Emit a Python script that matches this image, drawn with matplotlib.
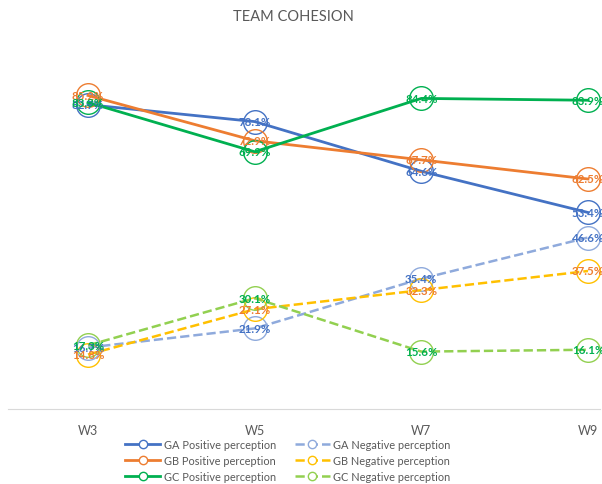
import matplotlib
matplotlib.use("Agg")
import matplotlib.pyplot as plt
from matplotlib.lines import Line2D

plt.rcParams['font.family'] = ['Lato', 'DejaVu Sans']

waves = ["W3", "W5", "W7", "W9"]
ga_pos = [82.7, 78.1, 64.6, 53.4]
gb_pos = [85.2, 72.9, 67.7, 62.5]
gc_pos = [83.3, 69.9, 84.4, 83.9]
ga_neg = [16.7, 21.9, 35.4, 46.6]
gb_neg = [14.8, 27.1, 32.3, 37.5]
gc_neg = [17.3, 30.1, 15.6, 16.1]

series = [
    ("GA Positive perception", ga_pos, "#4472C4", "-", "#4472C4"),
    ("GB Positive perception", gb_pos, "#ED7D31", "-", "#ED7D31"),
    ("GC Positive perception", gc_pos, "#00B050", "-", "#00B050"),
    ("GA Negative perception", ga_neg, "#8FAADC", "--", "#4472C4"),
    ("GB Negative perception", gb_neg, "#FFC000", "--", "#ED7D31"),
    ("GC Negative perception", gc_neg, "#92D050", "--", "#00B050"),
]

fig = plt.figure(figsize=(6.02, 4.85), dpi=100)
ax = fig.add_axes([8/602, 75/485, 592/602, 368/485])
x = list(range(len(waves)))
for name, vals, col, ls, lcol in series:
    ax.plot(x, vals, color=col, linestyle=ls, linewidth=2.0 if ls == "-" else 1.8,
            marker="o", markersize=17, markerfacecolor="none",
            markeredgecolor=col, markeredgewidth=1.0, label=name)
    for xi, v in zip(x, vals):
        ax.text(xi, v, f"{v:.1f}%", color=lcol, ha="center", va="center",
                fontsize=8.3, fontweight="bold", zorder=5)

ax.set_ylim(0, 100)
ax.set_xlim(-0.48, 3.072)
ax.set_xticks(x)
ax.set_xticklabels(waves, color="#595959", fontsize=9)
ax.tick_params(axis="x", length=0, pad=11)
ax.set_yticks([])
for s in ["top", "left", "right"]:
    ax.spines[s].set_visible(False)
ax.spines["bottom"].set_color("#D9D9D9")

fig.text(0.487, 0.965, "TEAM COHESION", ha="center", va="center", fontsize=10.5,
         color="#595959")

leg_handles = []
for name, vals, col, ls, lcol in series:
    leg_handles.append(Line2D([0], [0], color=col, linestyle=ls, linewidth=2.0 if ls == "-" else 1.8,
                              marker="o", markersize=6, markerfacecolor="white",
                              markeredgecolor=col, markeredgewidth=1.0))
fig.legend(leg_handles, [s[0] for s in series], ncol=2, loc="center",
           bbox_to_anchor=(0.478, 0.048), frameon=False, fontsize=7.9,
           labelcolor="#595959", handlelength=3.2, columnspacing=1.7,
           labelspacing=0.45, handletextpad=0.3)

fig.savefig("out.png", dpi=100)
